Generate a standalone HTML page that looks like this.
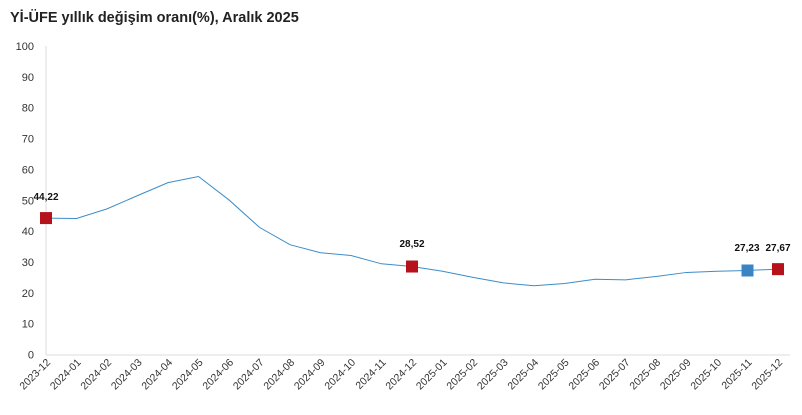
<!DOCTYPE html>
<html><head><meta charset="utf-8"><style>
body{margin:0;background:#fff;font-family:"Liberation Sans",sans-serif}
</style></head><body>
<svg width="802" height="410" xmlns="http://www.w3.org/2000/svg" font-family="Liberation Sans, sans-serif">
<text x="10" y="22" font-size="14.5" font-weight="bold" fill="#222">Yİ-ÜFE yıllık değişim oranı(%), Aralık 2025</text>
<line x1="46" y1="46" x2="46" y2="355" stroke="#ddd"/>
<line x1="46" y1="355" x2="790" y2="355" stroke="#ddd"/>
<g font-size="11" fill="#333" text-anchor="end" id="yl"></g>
<g font-size="10.5" fill="#333" text-anchor="end" id="xl"></g>
<polyline id="ln" fill="none" stroke="#3b8dc9" stroke-width="1"/>
<g id="mk"></g>
<g font-size="10" font-weight="bold" fill="#111" text-anchor="middle">
<text x="46" y="200">44,22</text>
<text x="412" y="247">28,52</text>
<text x="747" y="251">27,23</text>
<text x="778" y="251">27,67</text>
</g>
<script>
var ns="http://www.w3.org/2000/svg";
function Y(v){return 354.5-v*3.085}
var yl=document.getElementById("yl");
for(var v=0;v<=100;v+=10){var t=document.createElementNS(ns,"text");t.setAttribute("x",34);t.setAttribute("y",Y(v)+4);t.textContent=v;yl.appendChild(t);}
var d=[44.22,44.1,47.2,51.5,55.7,57.7,50.1,41.2,35.6,33.0,32.1,29.4,28.52,27.0,25.0,23.2,22.3,23.0,24.4,24.2,25.3,26.6,27.0,27.23,27.67];
var pts=[],xl=document.getElementById("xl");
for(var i=0;i<25;i++){var x=46+i*30.5;pts.push(x+","+Y(d[i]));
var yr=2023+Math.floor((i+11)/12),m=((i+11)%12)+1;
var t=document.createElementNS(ns,"text");t.setAttribute("transform","translate("+(x+5)+",363) rotate(-45)");t.textContent=yr+"-"+(m<10?"0":"")+m;xl.appendChild(t);}
document.getElementById("ln").setAttribute("points",pts.join(" "));
var mk=document.getElementById("mk");
[[0,"#b5121b"],[12,"#b5121b"],[23,"#3b84c4"],[24,"#b5121b"]].forEach(function(p){var r=document.createElementNS(ns,"rect");var x=46+p[0]*30.5;r.setAttribute("x",x-6);r.setAttribute("y",Y(d[p[0]])-6);r.setAttribute("width",12);r.setAttribute("height",12);r.setAttribute("fill",p[1]);mk.appendChild(r);});
</script>
</svg>
</body></html>
